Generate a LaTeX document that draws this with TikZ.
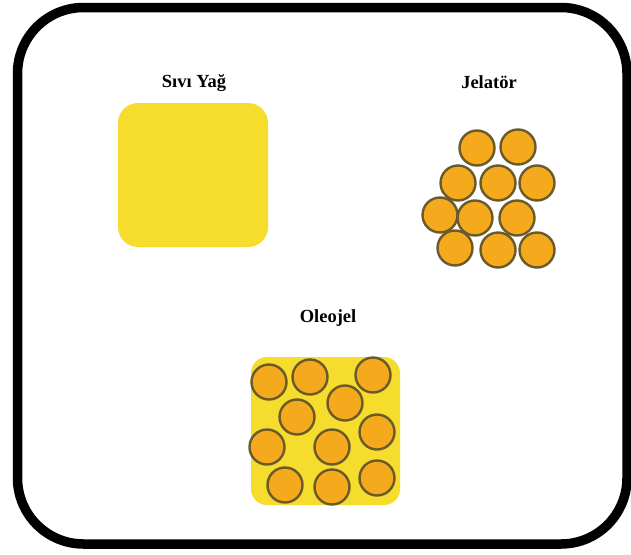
\documentclass[tikz,border=0pt]{standalone}
\usepackage{fontspec}
\setmainfont{Liberation Serif}
\begin{document}
\begin{tikzpicture}[x=1pt,y=-1pt,
  frame/.style={draw=black,line width=9.5pt,rounded corners=66pt},
  oil/.style={fill=oilyellow,draw=none},
  particle/.style={circle,draw=partedge,line width=2.4pt,fill=partfill,minimum size=35pt,inner sep=0pt},
  lbl/.style={font=\bfseries\fontsize{18.5}{22}\selectfont,text=black}]
\definecolor{oilyellow}{HTML}{F6DC2C}
\definecolor{partfill}{HTML}{F4AA1C}
\definecolor{partedge}{HTML}{6A5A2A}
\useasboundingbox (0,0) rectangle (631,554);
\draw[frame] (17.5,7.5) rectangle (627,544);
% Sivi Yag
\node[lbl] (l1) at (194,83) {Sıvı Yağ};
\fill[oil,rounded corners=20pt] (118,103) rectangle (268,247);
% Jelator
\node[lbl] (l2) at (489,82) {Jelatör};
\foreach \n/\x/\y in {j1/477/148,j2/518/147,j3/458/183,j4/498/183,j5/537/183,
  j6/440/215,j7/475/218,j8/517/218,j9/455/248,j10/498/250,j11/537/250}
  \node[particle] (\n) at (\x,\y) {};
% Oleojel
\node[lbl] (l3) at (328,318) {Oleojel};
\fill[oil,rounded corners=16pt] (251,357) rectangle (400,505);
\foreach \n/\x/\y in {o1/269/382,o2/310/377,o3/373/375,o4/297/417,o5/345/403,
  o6/377/432,o7/267/447,o8/332/447,o9/285/485,o10/332/487,o11/377/478}
  \node[particle] (\n) at (\x,\y) {};
\end{tikzpicture}
\end{document}
